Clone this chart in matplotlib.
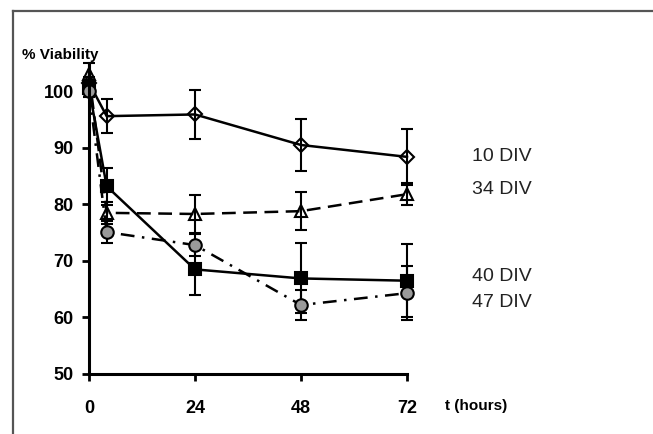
import matplotlib
matplotlib.use("Agg")
import matplotlib.pyplot as plt
from matplotlib.lines import Line2D

plt.rcParams['font.family'] = ['Liberation Sans', 'DejaVu Sans']

hours = [0, 4, 24, 48, 72]
series_names = ["10 DIV", "34 DIV", "40 DIV", "47 DIV"]
div10 = [101.5, 95.6, 95.9, 90.5, 88.4]
div10_err = [1.0, 3.0, 4.3, 4.6, 5.0]
div34 = [103.0, 78.5, 78.3, 78.8, 81.8]
div34_err = [2.0, 2.0, 3.3, 3.4, 2.0]
div40 = [100.5, 83.2, 68.5, 66.9, 66.5]
div40_err = [1.0, 3.3, 4.6, 6.2, 6.5]
div47 = [100.0, 75.1, 72.8, 62.2, 64.3]
div47_err = [1.0, 2.0, 2.0, 2.6, 4.8]
label_y = [88.4, 82.6, 67.2, 62.7]
yticks = [50, 60, 70, 80, 90, 100]
xticks = [0, 24, 48, 72]

fig = plt.figure(figsize=(6.53, 4.34), dpi=100)
ax = fig.add_axes([89/653, 60/434, (407-89)/653, (374-63)/434])

styles = [
    dict(marker='D', ms=7, mfc='none', mec='black', ls='-', dashes=(None, None)),
    dict(marker='^', ms=9, mfc='none', mec='black', ls='--', dashes=(5.5, 3)),
    dict(marker='s', ms=9, mfc='black', mec='black', ls='-', dashes=(None, None)),
    dict(marker='o', ms=9, mfc='#9a9a9a', mec='black', ls='-.', dashes=(5.5, 3, 1, 3)),
]
data = [(div10, div10_err), (div34, div34_err), (div40, div40_err), (div47, div47_err)]

for (vals, errs), st, name, ly in zip(data, styles, series_names, label_y):
    kw = dict(color='black', lw=1.8, marker=st['marker'], ms=st['ms'],
              mfc=st['mfc'], mec=st['mec'], mew=1.5, ls=st['ls'])
    if st['dashes'][0] is not None:
        kw['dashes'] = st['dashes']
    ax.errorbar(hours, vals, yerr=errs, ecolor='black', elinewidth=1.5,
                capsize=4, capthick=1.5, clip_on=False, **kw)
    ax.text(86.7, ly, name, fontsize=14, color='#222222', va='center',
            ha='left', clip_on=False)

ax.set_xlim(0, 72)
ax.set_ylim(50, 105)
ax.set_xticks(xticks)
ax.set_yticks(yticks)
for s in ['top', 'right']:
    ax.spines[s].set_visible(False)
for s in ['left', 'bottom']:
    ax.spines[s].set_linewidth(2.2)
ax.tick_params(axis='both', direction='out', length=5, width=2, labelsize=13)
ax.tick_params(axis='x', pad=14)
ax.tick_params(axis='y', pad=6)
for lab in ax.get_xticklabels() + ax.get_yticklabels():
    lab.set_fontweight('bold')

fig.text(22/653, 1 - 55/434, "% Viability", fontsize=11, fontweight='bold',
         va='center', ha='left')
fig.text(445/653, 1 - 406/434, "t (hours)", fontsize=11, fontweight='bold',
         va='center', ha='left')

# outer frame (top and left edges visible)
fig.add_artist(Line2D([13/653, 1.0], [1 - 11/434, 1 - 11/434],
                      transform=fig.transFigure, color='#555555', lw=1.6))
fig.add_artist(Line2D([13/653, 13/653], [1 - 11/434, 0.0],
                      transform=fig.transFigure, color='#555555', lw=1.6))

fig.savefig("out.png", dpi=100)
